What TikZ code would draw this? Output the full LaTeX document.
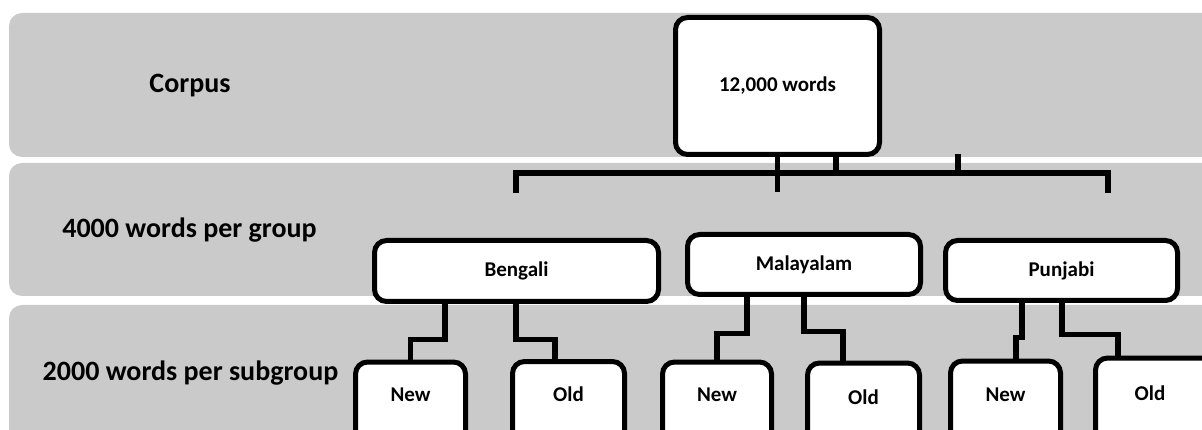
\documentclass[tikz,border=0pt]{standalone}
\usepackage{fontspec}
\setmainfont{Carlito}
\definecolor{bandgray}{RGB}{202,202,202}
\tikzset{
  band/.style={fill=bandgray, rounded corners=13pt},
  box/.style={draw=black, fill=white, line width=5pt, rounded corners=12pt, inner sep=0pt,
    font=\fontsize{21}{25}\selectfont\bfseries},
  subbox/.style={box, minimum width=110pt, minimum height=110pt, anchor=north},
  sublbl/.style={anchor=center, inner sep=0pt, font=\fontsize{21}{25}\selectfont\bfseries},
  conn/.style={draw=black, line width=5.5pt},
  lvl/.style={font=\fontsize{28}{32}\selectfont\bfseries, inner sep=0pt},
}
\begin{document}
\begin{tikzpicture}[x=1pt, y=-1pt]
\useasboundingbox (0,0) rectangle (1202,430);
\clip (0,0) rectangle (1202,430);
\fill[white] (0,0) rectangle (1202,430);
% bands
\path[band] (9,13) rectangle (1240,157);
\path[band] (9,163) rectangle (1240,296);
\path[band] (9,305) rectangle (1240,460);
% level labels
\node[lvl] (l1) at (190,86) {Corpus};
\node[lvl] (l2) at (189.5,230.5) {4000 words per group};
\node[lvl] (l3) at (190.5,373) {2000 words per subgroup};
% top box
\node[box, minimum width=204pt, minimum height=137pt] (top) at (777.5,86) {12,000 words};
% group boxes
\node[box, minimum width=284pt, minimum height=61pt] (beng) at (516.5,271) {Bengali};
\node[box, minimum width=233pt, minimum height=60pt] (mala) at (804,264.5) {Malayalam};
\node[box, minimum width=232pt, minimum height=60pt] (punj) at (1061.5,270.5) {Punjabi};
% subgroup boxes
\node[subbox, label={[sublbl, yshift=-35.5pt]north:New}] (new1) at (410.5,359.5) {};
\node[subbox, minimum width=112pt, label={[sublbl, yshift=-35pt]north:Old}] (old1) at (568.5,359) {};
\node[subbox, minimum width=109pt, label={[sublbl, yshift=-35.5pt]north:New}] (new2) at (717,359.5) {};
\node[subbox, minimum width=112pt, label={[sublbl, yshift=-36.5pt]north:Old}] (old2) at (863.5,360.5) {};
\node[subbox, label={[sublbl, yshift=-36.5pt]north:New}] (new3) at (1005.5,358.5) {};
\node[subbox, minimum width=130pt, label={[sublbl, yshift=-37.5pt, xshift=-10.5pt]north:Old}] (old3) at (1160.5,355.5) {};
% top-level bracket
\coordinate (lb) at (516,193);
\coordinate (hl) at (516,173);
\coordinate (hr) at (1108,173);
\coordinate (rb) at (1108,193);
\coordinate (st) at (958,154);
\draw[conn] (lb) -- (hl) -- (hr) -- (rb);
\draw[conn] (top.south) -- ++(0,35.5);
\draw[conn] ([xshift=58.5pt]top.south) -- ++(0,18.5);
\draw[conn] (st) -- ++(0,19);
% subgroup connectors
\draw[conn] ([xshift=-71.5pt]beng.south) -- ++(0,35.5) -| (new1.north);
\draw[conn] ([xshift=-0.5pt]beng.south) -- ++(0,35.5) -| ([xshift=-13.5pt]old1.north);
\draw[conn] ([xshift=-57pt]mala.south) -- ++(0,36.5) -| (new2.north);
\draw[conn] (mala.south) -- ++(0,34.5) -| ([xshift=-20.5pt]old2.north);
\draw[conn] ([xshift=-39.5pt]punj.south) -- ++(0,34.5) -| ([xshift=10.5pt]new3.north);
\draw[conn] ([xshift=0.5pt]punj.south) -- ++(0,31.5) -| ([xshift=-42.5pt]old3.north);
\end{tikzpicture}
\end{document}
